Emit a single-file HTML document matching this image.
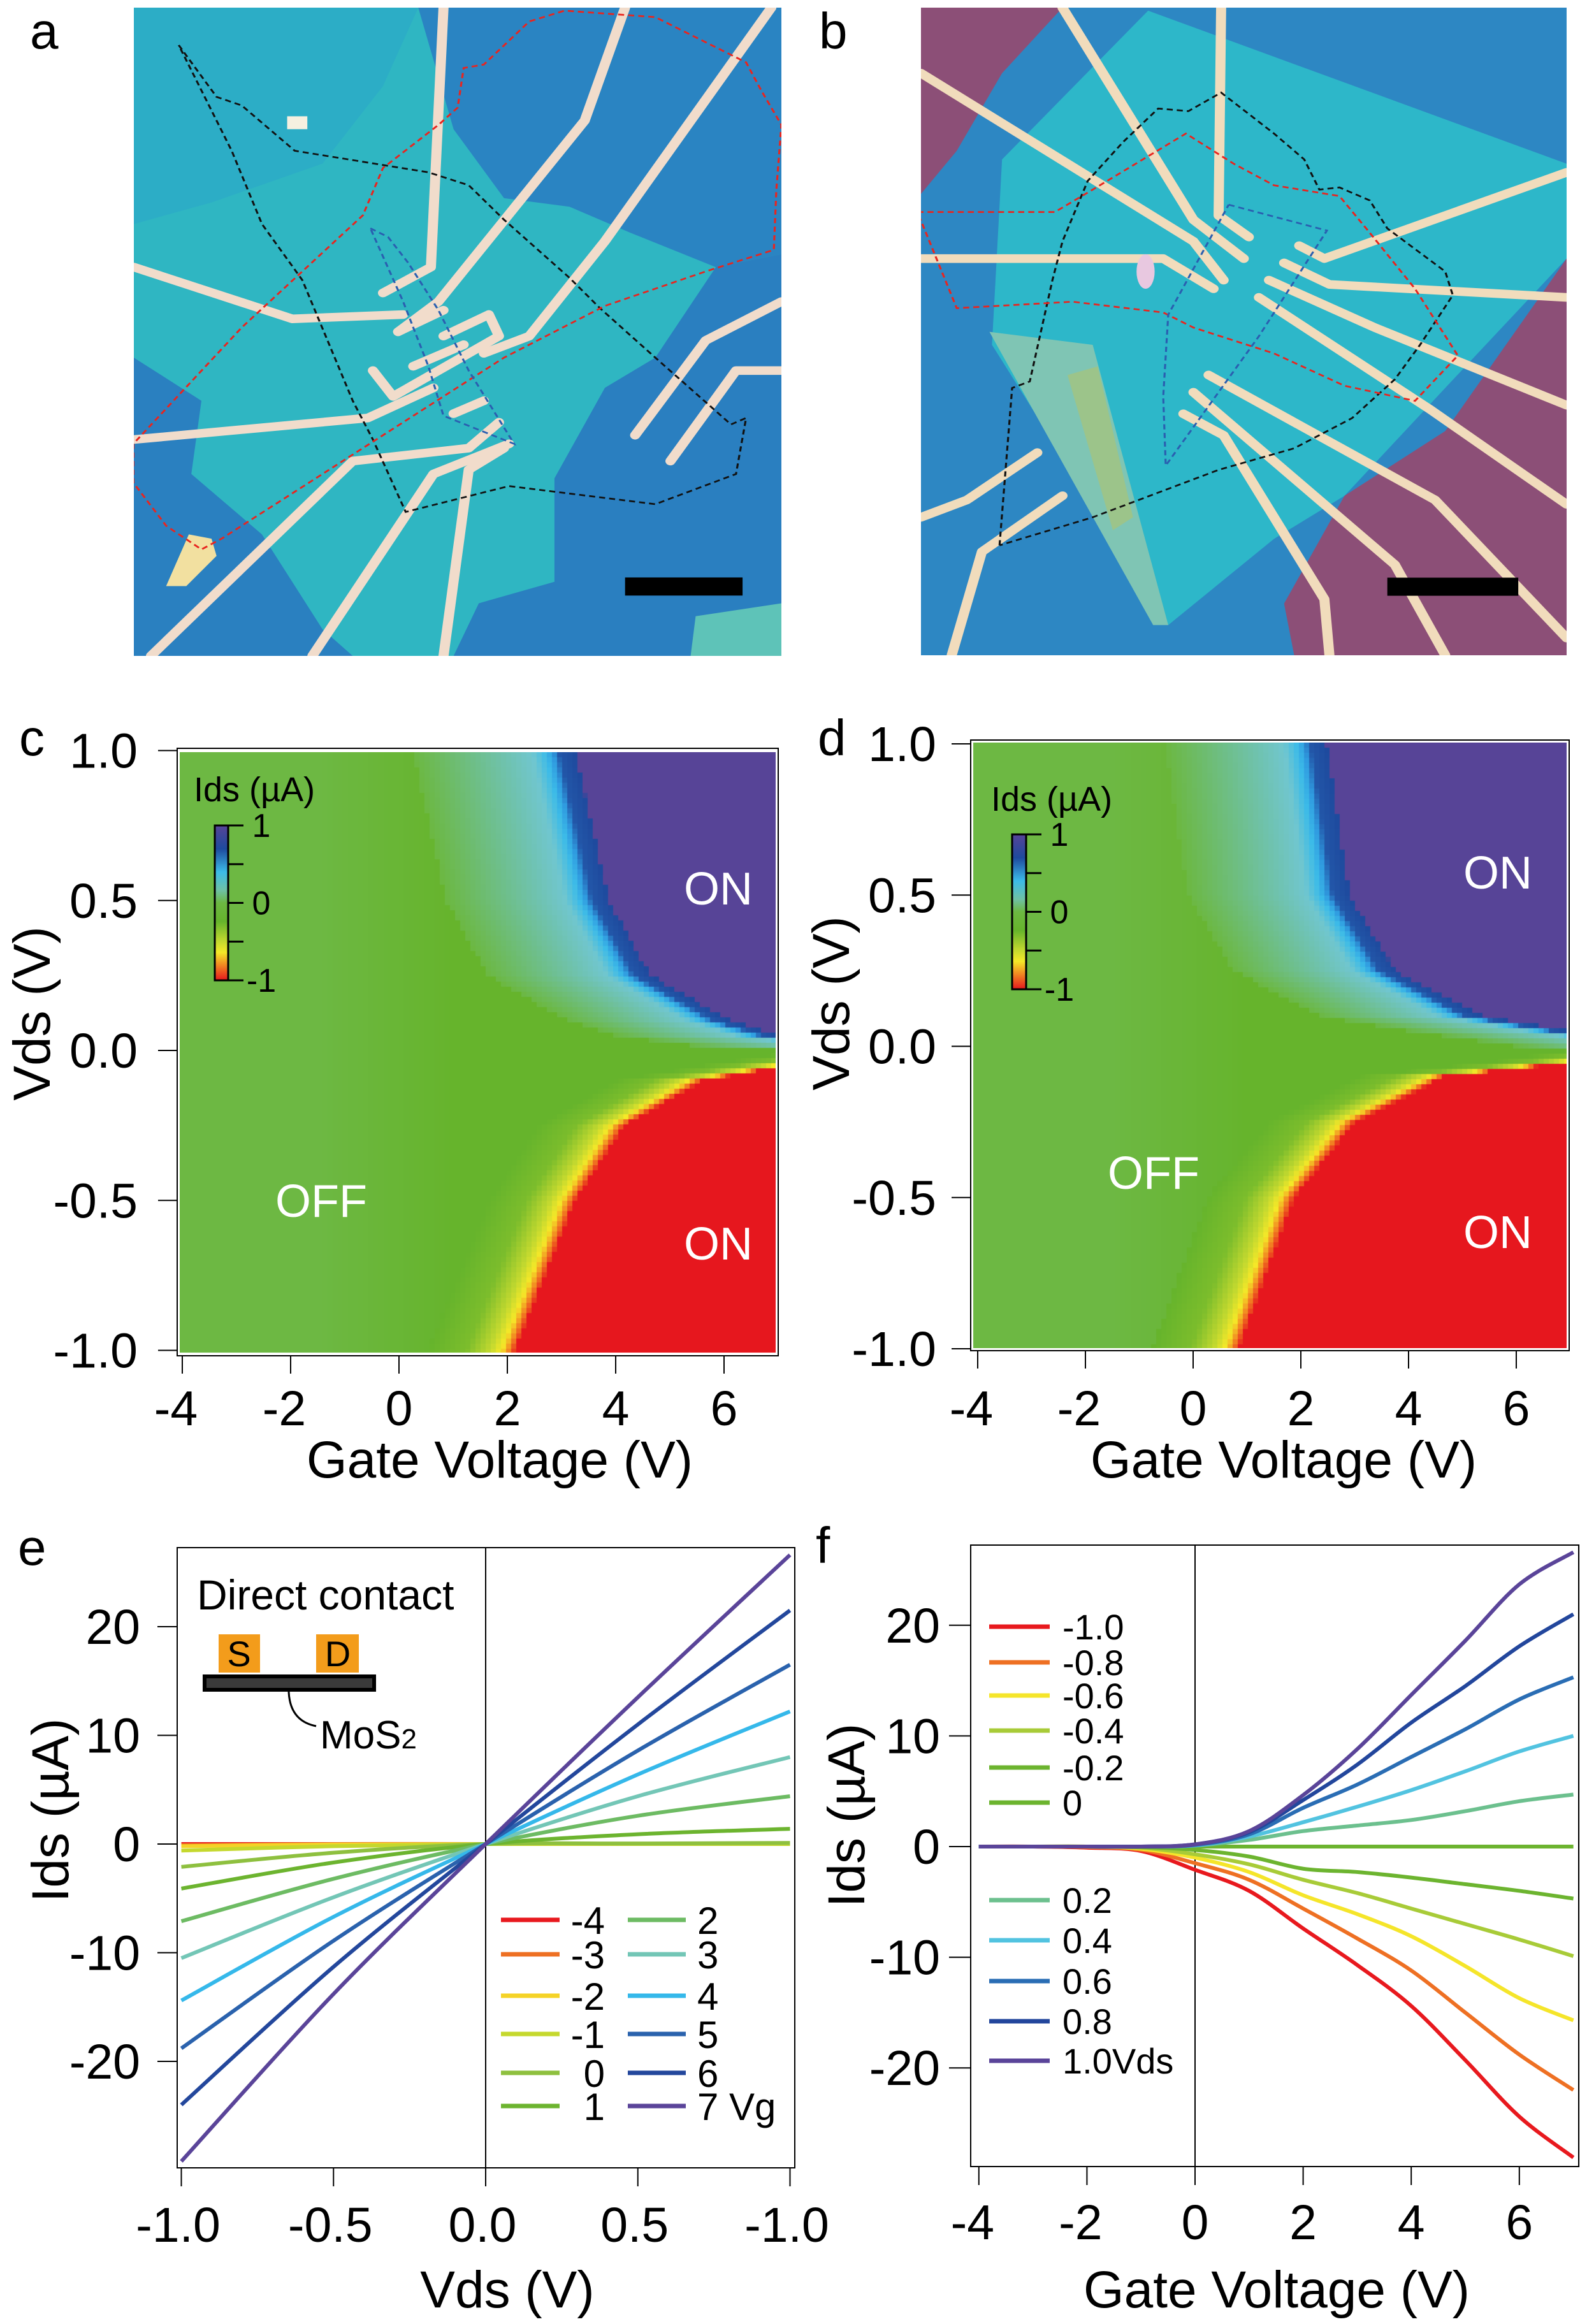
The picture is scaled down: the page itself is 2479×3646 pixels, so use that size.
<!DOCTYPE html>
<html><head><meta charset="utf-8">
<style>
html,body{margin:0;padding:0;background:#fff;}
#wrap{position:relative;width:2479px;height:3646px;overflow:hidden;font-family:"Liberation Sans",Arial,sans-serif;}
canvas{position:absolute;}
svg{position:absolute;left:0;top:0;}
text{font-family:"Liberation Sans",Arial,sans-serif;}
</style></head>
<body>
<div id="wrap">
<canvas id="hmC" width="936" height="942" style="left:282px;top:1180px;"></canvas>
<canvas id="hmD" width="933" height="952" style="left:1526px;top:1165px;"></canvas>
<svg id="fig" width="2479" height="3646" viewBox="0 0 2479 3646">
<defs>
<linearGradient id="cbar" x1="0" y1="0" x2="0" y2="1">
<stop offset="0" stop-color="#574497"/><stop offset="0.15" stop-color="#1e4a9e"/><stop offset="0.3" stop-color="#3cbbe8"/><stop offset="0.42" stop-color="#6fc1a3"/><stop offset="0.5" stop-color="#6cb842"/><stop offset="0.62" stop-color="#66b42c"/><stop offset="0.75" stop-color="#c4d92f"/><stop offset="0.82" stop-color="#f5e828"/><stop offset="0.9" stop-color="#f28a22"/><stop offset="1" stop-color="#e6171e"/>
</linearGradient>
</defs>

<!-- Panel a photo -->
<text x="47" y="76" font-size="80">a</text>
<svg x="210" y="12" width="1016" height="1017" viewBox="266 18 1284 1504" preserveAspectRatio="none">
<rect x="266" y="18" width="1284" height="1504" fill="#2fb6c2"/>
<polygon points="266,18 830,18 760,200 640,380 420,470 266,520" fill="#2cadc6"/>
<polygon points="830,18 1550,18 1550,590 1420,620 1250,540 1130,480 1000,460 900,300" fill="#2a84c2"/>
<polygon points="1100,1110 1200,900 1300,830 1420,620 1550,590 1550,1522 900,1522 950,1400 1100,1350" fill="#2a7fc0"/>
<polygon points="266,830 400,930 380,1100 520,1240 640,1460 700,1522 266,1522" fill="#2a80c0"/>
<polygon points="1380,1430 1550,1400 1550,1522 1370,1522" fill="#5ec3b8"/>
<g stroke="#f1dccb" stroke-width="20" fill="none" stroke-linejoin="round" stroke-linecap="round">
<polyline points="880,18 855,620 760,680"/>
<polyline points="1240,18 1160,280 870,700 790,770"/>
<polyline points="1530,18 1200,560 1050,780 960,820"/>
<polyline points="266,620 580,740 800,730"/>
<polyline points="266,1020 730,970 860,900"/>
<polyline points="300,1522 700,1070 930,1040 990,980"/>
<polyline points="620,1522 860,1100 1010,1030"/>
<polyline points="880,1522 930,1090 1000,1040"/>
<polyline points="1550,700 1400,790 1260,1010"/>
<polyline points="1550,860 1460,860 1330,1070"/>
<polyline points="740,860 780,920 990,780 970,730 880,780"/>
<polyline points="790,770 880,720"/>
<polyline points="820,850 920,800"/>
<polyline points="900,960 960,930"/>
</g>
<polygon points="330,1360 375,1240 420,1250 430,1290 370,1360" fill="#f2e0a0"/>
<rect x="570" y="270" width="40" height="30" fill="#f5f0e0"/>
<g fill="none" stroke-width="4" stroke-dasharray="12,8">
<polyline stroke="#111" points="355,105 430,225 480,245 585,350 770,385 850,400 930,430 1000,510 1130,645 1190,715 1300,830 1450,985 1480,970 1460,1100 1300,1170 1010,1128 805,1188 740,1020 700,930 600,650 520,520 460,350 355,105"/>
<polyline stroke="#e8251f" points="265,1030 265,1120 330,1220 400,1275 440,1250 600,1130 800,980 1000,830 1200,710 1400,630 1535,580 1540,440 1550,290 1510,210 1480,145 1300,40 1120,25 1050,50 960,150 920,158 908,250 870,290 760,390 720,500 600,630 480,760 265,1030"/>
<polyline stroke="#2a5fb0" points="735,530 770,550 810,610 870,720 930,860 1020,1030 880,965 850,850 800,700 735,530"/>
</g>
<rect x="1240" y="1340" width="233" height="42" fill="#000"/>
</svg>

<!-- Panel b photo -->
<text x="1285" y="76" font-size="80">b</text>
<svg x="1445" y="12" width="1013" height="1016" viewBox="259 18 1282 1502" preserveAspectRatio="none">
<rect x="259" y="18" width="1282" height="1502" fill="#2d87c3"/>
<polygon points="259,18 540,18 420,170 330,350 259,450" fill="#8c4f77"/>
<polygon points="1541,600 1300,1000 1100,1150 980,1400 1000,1520 1541,1520" fill="#8c4f77"/>
<polygon points="710,25 1541,380 1541,600 1300,900 1100,1150 960,1250 750,1450 400,800 420,370" fill="#2db7c9"/>
<polygon points="395,770 600,800 750,1450 720,1450" fill="#7fc5b4"/>
<polygon points="550,870 610,850 680,1200 640,1230" fill="#9cc48a"/>
<g stroke="#f1dcbc" stroke-width="20" fill="none" stroke-linejoin="round" stroke-linecap="round">
<polyline points="259,170 800,560 860,650"/>
<polyline points="259,600 740,600 840,670"/>
<polyline points="540,18 800,510 900,600"/>
<polyline points="855,18 850,500 910,550"/>
<polyline points="1541,400 1060,600 1010,570"/>
<polyline points="1541,690 1070,660 980,610"/>
<polyline points="1541,940 1160,760 950,650"/>
<polyline points="1541,1170 1270,950 930,690"/>
<polyline points="1541,1480 1280,1160 830,870"/>
<polyline points="1300,1520 1200,1310 800,910"/>
<polyline points="1070,1520 1060,1390 860,1010 780,960"/>
<polyline points="259,1200 350,1160 490,1050"/>
<polyline points="320,1520 380,1280 540,1150"/>
</g>
<ellipse cx="705" cy="630" rx="18" ry="40" fill="#e8c8e0"/>
<g fill="none" stroke-width="4" stroke-dasharray="12,8">
<polyline stroke="#111" points="415,1265 440,900 475,885 520,650 540,560 590,420 660,330 730,252 790,258 855,215 960,310 1020,370 1050,440 1090,435 1150,465 1185,530 1300,630 1315,685 1250,800 1200,880 1115,970 1000,1040 850,1090 600,1200 415,1265"/>
<polyline stroke="#e8251f" points="252,492 525,492 600,440 785,310 880,380 960,430 1090,455 1150,540 1240,670 1325,825 1240,930 1100,895 960,820 800,760 740,725 560,700 330,715 252,492"/>
<polyline stroke="#2a5fb0" points="870,475 1065,535 930,780 745,1080 740,920 750,730 870,475"/>
</g>
<rect x="1185" y="1340" width="260" height="42" fill="#000"/>
</svg>

<g id="gC"></g>
<g id="gD"></g>
<g id="gE"></g>
<g id="gF"></g>
</svg>
</div>
<script>
// ---------- heatmap data (onset gate voltage of saturated ON colour per |Vds|) ----------
const vdsKnots = [0, 0.05, 0.1, 0.25, 0.5, 1.0];
const onsetUpperC = [9, 7.0, 6.1, 4.64, 3.87, 3.25];
const onsetLowerC = [9, 7.2, 5.6, 4.16, 3.25, 2.14];
const onsetUpperD = [9, 7.0, 5.35, 3.75, 2.9, 2.48];
const onsetLowerD = [9, 7.2, 4.66, 3.0, 1.87, 0.84];
const vgTicks = [-4, -2, 0, 2, 4, 6];
const vdsTicks = [1.0, 0.5, 0.0, -0.5, -1.0];
const vdsTickLabels = ["1.0", "0.5", "0.0", "-0.5", "-1.0"];

// ---------- panel e data: Ids (µA) at Vds sample points ----------
const eVds = [-1, -0.5, 0, 0.5, 1];
const eVg = ["-4", "-3", "-2", "-1", "0", "1", "2", "3", "4", "5", "6", "7"];
const eIds = [
  [0, 0, 0, 0, 0],
  [-0.1, 0, 0, 0, 0],
  [-0.2, -0.05, 0, 0, 0],
  [-0.6, -0.2, 0, 0, 0],
  [-2.1, -0.8, 0, 0.05, 0.1],
  [-4.1, -1.7, 0, 0.9, 1.4],
  [-7.1, -3.2, 0, 2.6, 4.4],
  [-10.5, -4.9, 0, 4.4, 8.0],
  [-14.4, -6.7, 0, 6.4, 12.2],
  [-18.8, -8.9, 0, 8.6, 16.5],
  [-24.0, -11.3, 0, 11.0, 21.5],
  [-29.2, -13.8, 0, 13.5, 26.6]
];
const eColors = ["#e8191e", "#ee7023", "#f5d327", "#c5d82e", "#8ec03f", "#6cb42f", "#6dbb63", "#73c6b6", "#35b8ea", "#2a62ad", "#23479c", "#5a4499"];
const eXTickVals = [-1, -0.5, 0, 0.5, 1];
const eXTickLabels = ["-1.0", "-0.5", "0.0", "0.5", "-1.0"];
const eYTicks = [20, 10, 0, -10, -20];

// ---------- panel f data: Ids (µA) vs gate voltage ----------
const fVg = [-4, -3, -2, -1, 0, 1, 2, 3, 4, 5, 6, 7];
const fVds = ["-1.0", "-0.8", "-0.6", "-0.4", "-0.2", "0", "0.2", "0.4", "0.6", "0.8", "1.0Vds"];
const fIds = [
  [0, 0, -0.1, -0.4, -2.1, -4.0, -7.4, -10.7, -14.4, -19.3, -24.4, -28.1],
  [0, 0, -0.05, -0.3, -1.5, -3.0, -5.6, -8.3, -11.2, -15.0, -18.8, -22.0],
  [0, 0, 0, -0.2, -1.0, -2.3, -4.4, -6.1, -8.1, -10.8, -13.7, -15.7],
  [0, 0, 0, -0.1, -0.7, -1.6, -3.0, -4.2, -5.6, -7.0, -8.4, -9.9],
  [0, 0, 0, -0.05, -0.3, -0.9, -2.0, -2.3, -2.8, -3.4, -4.0, -4.7],
  [0, 0, 0, 0, 0, 0, 0, 0, 0, 0, 0, 0],
  [0, 0, 0, 0, 0.1, 0.6, 1.4, 1.9, 2.4, 3.2, 4.1, 4.7],
  [0, 0, 0, 0, 0.1, 0.9, 2.2, 3.6, 5.1, 6.8, 8.6, 10.0],
  [0, 0, 0, 0, 0.15, 1.1, 3.5, 5.6, 8.1, 10.6, 13.3, 15.3],
  [0, 0, 0, 0, 0.2, 1.3, 4.2, 7.4, 11.2, 14.5, 18.1, 21.0],
  [0, 0, 0, 0, 0.2, 1.4, 4.65, 8.8, 13.7, 18.6, 23.7, 26.6]
];
const fColors = ["#e8191e", "#ee7023", "#f5e52a", "#a8cb38", "#6cb42f", "#6cb42f", "#6cc08e", "#52c3e0", "#2a6db4", "#22469c", "#5a4499"];
const fXTicks = [-4, -2, 0, 2, 4, 6];
const fYTicks = [20, 10, 0, -10, -20];

const NS = "http://www.w3.org/2000/svg";
function el(parent, tag, attrs, txt) {
  const e = document.createElementNS(NS, tag);
  for (const k in attrs) e.setAttribute(k, attrs[k]);
  if (txt !== undefined) e.textContent = txt;
  parent.appendChild(e);
  return e;
}
function hex(c) { return [parseInt(c.substr(1, 2), 16), parseInt(c.substr(3, 2), 16), parseInt(c.substr(5, 2), 16)]; }
function interpStops(stops, d) {
  if (d <= stops[0][0]) return hex(stops[0][1]);
  for (let i = 1; i < stops.length; i++) {
    if (d <= stops[i][0]) {
      const t = (d - stops[i - 1][0]) / (stops[i][0] - stops[i - 1][0]);
      const a = hex(stops[i - 1][1]), b = hex(stops[i][1]);
      return [a[0] + (b[0] - a[0]) * t, a[1] + (b[1] - a[1]) * t, a[2] + (b[2] - a[2]) * t];
    }
  }
  return null;
}
const upperStops = [[0, '#574497'], [0.001, '#1e4a9e'], [0.3, '#2256a8'], [0.42, '#2f9be0'], [0.55, '#3cbbe8'], [0.8, '#70c6cf'], [1.5, '#6fc1a3'], [3.0, '#6cb842']];
const lowerStops = [[0, '#e6171e'], [0.001, '#e8301d'], [0.12, '#f28a22'], [0.25, '#f5e828'], [0.45, '#c4d92f'], [0.9, '#7cbd2c'], [1.6, '#66b42c']];
function onsetAt(knots, vals, a) {
  if (a >= knots[knots.length - 1]) return vals[vals.length - 1];
  for (let i = 1; i < knots.length; i++) if (a <= knots[i]) {
    const t = (a - knots[i - 1]) / (knots[i] - knots[i - 1]);
    return vals[i - 1] + (vals[i] - vals[i - 1]) * t;
  }
}
function baseGreen(vg) {
  const t = Math.max(0, Math.min(1, (vg + 1.5) / 2.5));
  const a = hex('#6db843'), b = hex('#66b42c');
  return [a[0] + (b[0] - a[0]) * t, a[1] + (b[1] - a[1]) * t, a[2] + (b[2] - a[2]) * t];
}
function drawHeatmap(id, x0, xv, yv, up, lo) {
  const cv = document.getElementById(id), ctx = cv.getContext('2d');
  const W = cv.width, H = cv.height, cell = 8;
  for (let py = 0; py < H; py += cell) {
    const vds = yv(py + cell / 2);
    for (let px = 0; px < W; px += cell) {
      const vg = xv(px + cell / 2);
      let c = null;
      if (vds > 0) {
        const on = onsetAt(vdsKnots, up, vds);
        c = interpStops(upperStops, on - vg);
      } else {
        const on = onsetAt(vdsKnots, lo, -vds);
        c = interpStops(lowerStops, on - vg);
      }
      if (!c) c = baseGreen(vg);
      ctx.fillStyle = 'rgb(' + Math.round(c[0]) + ',' + Math.round(c[1]) + ',' + Math.round(c[2]) + ')';
      ctx.fillRect(px, py, cell, cell);
    }
  }
}

function heatPanel(g, o) {
  // o: sx(vg), sy(vds), frame, labels
  const f = o.frame;
  el(g, 'rect', { x: f[0] + 2, y: f[1] + 2, width: f[2] - f[0] - 4, height: f[3] - f[1] - 4, fill: 'none', stroke: '#fff', 'stroke-width': 4 });
  const fr = el(g, 'rect', { x: f[0], y: f[1], width: f[2] - f[0], height: f[3] - f[1], fill: 'none', stroke: '#000', 'stroke-width': 2 });
  
  
  vdsTicks.forEach((v, i) => {
    const y = o.sy(v);
    el(g, 'line', { x1: f[0] - 30, x2: f[0], y1: y, y2: y, stroke: '#000', 'stroke-width': 2 });
    const t = el(g, 'text', { x: o.ylabX, y: y + 27, 'font-size': 77, 'text-anchor': 'end' }, vdsTickLabels[i]);
    
    
  });
  vgTicks.forEach(v => {
    const x = o.sx(v);
    el(g, 'line', { x1: x, x2: x, y1: f[3], y2: f[3] + 28, stroke: '#000', 'stroke-width': 2 });
    const t = el(g, 'text', { x: x - (v < 0 ? 10 : 0), y: 2236, 'font-size': 77, 'text-anchor': 'middle' }, String(v));
    
    
  });
  let t = el(g, 'text', { x: o.xtitle, y: 2318, 'font-size': 82, 'text-anchor': 'middle' }, 'Gate Voltage (V)');
  
  
  t = el(g, 'text', { x: 0, y: 0, 'font-size': 82, 'text-anchor': 'middle', transform: 'translate(' + (o.ytitle[0] + 29) + ',' + o.ytitle[1] + ') rotate(-90)' }, 'Vds (V)');
  
  
  t = el(g, 'text', { x: o.lab[0], y: o.lab[1], 'font-size': 80 }, o.lab[2]);
  
  
  // colorbar
  const cb = o.cbar;
  const r = el(g, 'rect', { x: cb[0], y: cb[1], width: cb[2], height: cb[3], fill: 'url(#cbar)', stroke: '#000', 'stroke-width': 3 });
  
  
  el(g, 'line', { x1: cb[0] + cb[2], x2: cb[0] + cb[2], y1: cb[1], y2: cb[1] + cb[3], stroke: '#000', 'stroke-width': 3 });
  [0, 0.25, 0.5, 0.75, 1].forEach(fq => {
    const y = cb[1] + fq * cb[3];
    el(g, 'line', { x1: cb[0] + cb[2], x2: cb[0] + cb[2] + 24, y1: y, y2: y, stroke: '#000', 'stroke-width': 3 });
  });
  [['1', 0], ['0', 0.5], ['-1', 1]].forEach(p => {
    const tt = el(g, 'text', { x: cb[0] + cb[2] + 52, y: cb[1] + p[1] * cb[3] + 18, 'font-size': 52, 'text-anchor': 'middle' }, p[0]);
    
    
  });
  t = el(g, 'text', { x: o.cbTitle[0], y: o.cbTitle[1] + 19, 'font-size': 54 }, 'Ids (µA)');
  
  
  o.words.forEach(w => {
    const tt = el(g, 'text', { x: w[0], y: w[1] + 26, 'font-size': 72, fill: '#fff', 'text-anchor': 'middle' }, w[2]);
    
    
  });
}

// Panel c
const sxC = v => 286 + (v + 4) * 85, syC = v => 1648 - v * 470.5;
drawHeatmap('hmC', 282, px => (px + 282 - 286) / 85 - 4, py => (1648 - (py + 1180)) / 470.5, onsetUpperC, onsetLowerC);
heatPanel(document.getElementById('gC'), {
  sx: sxC, sy: syC, frame: [278, 1174, 1221, 2127], ylabX: 216, xtitle: 784, ytitle: [49, 1590], lab: [30, 1185, 'c'],
  cbar: [337, 1295, 21, 243], cbTitle: [304, 1238], words: [[1127, 1393, 'ON'], [1127, 1950, 'ON'], [504, 1883, 'OFF']]
});
// Panel d
const sxD = v => 1534 + (v + 4) * 84.5, syD = v => 1641.5 - v * 474.5;
drawHeatmap('hmD', 1526, px => (px + 1526 - 1534) / 84.5 - 4, py => (1641.5 - (py + 1165)) / 474.5, onsetUpperD, onsetLowerD);
heatPanel(document.getElementById('gD'), {
  sx: sxD, sy: syD, frame: [1523, 1161, 2462, 2119], ylabX: 1469, xtitle: 2014, ytitle: [1303, 1574], lab: [1283, 1185, 'd'],
  cbar: [1588, 1309, 22, 243], cbTitle: [1555, 1253], words: [[2350, 1368, 'ON'], [2350, 1932, 'ON'], [1810, 1839, 'OFF']]
});

function catmull(pts) {
  let d = 'M' + pts[0][0] + ',' + pts[0][1];
  for (let i = 0; i < pts.length - 1; i++) {
    const p0 = pts[Math.max(0, i - 1)], p1 = pts[i], p2 = pts[i + 1], p3 = pts[Math.min(pts.length - 1, i + 2)];
    const c1 = [p1[0] + (p2[0] - p0[0]) / 6, p1[1] + (p2[1] - p0[1]) / 6];
    const c2 = [p2[0] - (p3[0] - p1[0]) / 6, p2[1] - (p3[1] - p1[1]) / 6];
    d += 'C' + c1[0] + ',' + c1[1] + ' ' + c2[0] + ',' + c2[1] + ' ' + p2[0] + ',' + p2[1];
  }
  return d;
}

// Panel e
(function () {
  const g = document.getElementById('gE');
  const sx = v => 762 + v * 477.5, sy = v => 2893 - v * 17.05;
  const F = [278, 2428, 1247, 3401];
  let r = el(g, 'rect', { x: F[0], y: F[1], width: F[2] - F[0], height: F[3] - F[1], fill: 'none', stroke: '#000', 'stroke-width': 2 });
  
  
  el(g, 'line', { x1: sx(0), x2: sx(0), y1: F[1], y2: F[3], stroke: '#000', 'stroke-width': 2 });
  eYTicks.forEach(v => {
    el(g, 'line', { x1: 247, x2: F[0], y1: sy(v), y2: sy(v), stroke: '#000', 'stroke-width': 2 });
    const t = el(g, 'text', { x: 220, y: sy(v) + 27, 'font-size': 77, 'text-anchor': 'end' }, String(v));
    
    
  });
  eXTickVals.forEach((v, i) => {
    el(g, 'line', { x1: sx(v), x2: sx(v), y1: F[3], y2: F[3] + 29, stroke: '#000', 'stroke-width': 2 });
    const t = el(g, 'text', { x: sx(v) - 5, y: 3517, 'font-size': 77, 'text-anchor': 'middle' }, eXTickLabels[i]);
    
    
  });
  eIds.forEach((row, i) => {
    const p = el(g, 'path', { d: catmull(row.map((y, j) => [sx(eVds[j]), sy(y)])), fill: 'none', stroke: eColors[i], 'stroke-width': 6 });
    
    
  });
  const rows = [3012, 3066, 3131, 3191, 3252, 3304];
  eVg.forEach((lab, i) => {
    const col = i < 6 ? 0 : 1, ry = rows[i % 6];
    const x1 = col ? 985 : 786, x2 = col ? 1076 : 878;
    const ln = el(g, 'line', { x1: x1, x2: x2, y1: ry, y2: ry, stroke: eColors[i], 'stroke-width': 7 });
    
    
    const t = el(g, 'text', col ? { x: 1094, y: ry + 22, 'font-size': 60 } : { x: 949, y: ry + 22, 'font-size': 60, 'text-anchor': 'end' }, lab + (i === 11 ? ' Vg' : ''));
    
    
  });
  let t = el(g, 'text', { x: 309, y: 2525, 'font-size': 66 }, 'Direct contact');
  
  
  r = el(g, 'rect', { x: 343, y: 2564, width: 65, height: 60, fill: '#f39c1b' });
  
  
  r = el(g, 'rect', { x: 496, y: 2564, width: 67, height: 60, fill: '#f39c1b' });
  
  
  el(g, 'text', { x: 375, y: 2614, 'font-size': 56, 'text-anchor': 'middle' }, 'S');
  el(g, 'text', { x: 530, y: 2614, 'font-size': 56, 'text-anchor': 'middle' }, 'D');
  r = el(g, 'rect', { x: 321, y: 2630, width: 266, height: 21, fill: '#3a3a3a', stroke: '#000', 'stroke-width': 6 });
  
  
  el(g, 'path', { d: 'M453,2654 Q455,2700 496,2708', fill: 'none', stroke: '#000', 'stroke-width': 3 });
  t = el(g, 'text', { x: 502, y: 2743, 'font-size': 62 }, 'MoS');
  
  
  el(t, 'tspan', { 'font-size': 44 }, '2');
  t = el(g, 'text', { x: 0, y: 0, 'font-size': 82, 'text-anchor': 'middle', transform: 'translate(107,2840) rotate(-90)' }, 'Ids (µA)');
  
  
  t = el(g, 'text', { x: 796, y: 3620, 'font-size': 82, 'text-anchor': 'middle' }, 'Vds (V)');
  
  
  t = el(g, 'text', { x: 28, y: 2455, 'font-size': 80 }, 'e');
  
  
})();

// Panel f
(function () {
  const g = document.getElementById('gF');
  const sx = v => 1875 + v * 84.8, sy = v => 2897 - v * 17.36;
  const F = [1523, 2424, 2477, 3399];
  let r = el(g, 'rect', { x: F[0], y: F[1], width: F[2] - F[0], height: F[3] - F[1], fill: 'none', stroke: '#000', 'stroke-width': 2 });
  
  
  el(g, 'line', { x1: sx(0), x2: sx(0), y1: F[1], y2: F[3], stroke: '#000', 'stroke-width': 2 });
  fYTicks.forEach(v => {
    el(g, 'line', { x1: 1489, x2: F[0], y1: sy(v), y2: sy(v), stroke: '#000', 'stroke-width': 2 });
    const t = el(g, 'text', { x: 1475, y: sy(v) + 27, 'font-size': 77, 'text-anchor': 'end' }, String(v));
    
    
  });
  fXTicks.forEach(v => {
    el(g, 'line', { x1: sx(v), x2: sx(v), y1: F[3], y2: F[3] + 29, stroke: '#000', 'stroke-width': 2 });
    const t = el(g, 'text', { x: sx(v) - (v < 0 ? 10 : 0), y: 3513, 'font-size': 77, 'text-anchor': 'middle' }, String(v));
    
    
  });
  fIds.forEach((row, i) => {
    const p = el(g, 'path', { d: catmull(row.map((y, j) => [sx(fVg[j]), sy(y)])), fill: 'none', stroke: fColors[i], 'stroke-width': 6 });
    
    
  });
  const rows = [2552, 2608, 2660, 2715, 2773, 2828, 2981, 3044, 3108, 3171, 3233];
  fVds.forEach((lab, i) => {
    const ln = el(g, 'line', { x1: 1552, x2: 1647, y1: rows[i], y2: rows[i], stroke: fColors[i], 'stroke-width': 7 });
    
    
    const t = el(g, 'text', { x: 1667, y: rows[i] + 20, 'font-size': 56 }, lab);
    
    
  });
  let t = el(g, 'text', { x: 0, y: 0, 'font-size': 82, 'text-anchor': 'middle', transform: 'translate(1356,2848) rotate(-90)' }, 'Ids (µA)');
  
  
  t = el(g, 'text', { x: 2003, y: 3620, 'font-size': 82, 'text-anchor': 'middle' }, 'Gate Voltage (V)');
  
  
  t = el(g, 'text', { x: 1280, y: 2452, 'font-size': 80 }, 'f');
  
  
})();
</script>
</body></html>
